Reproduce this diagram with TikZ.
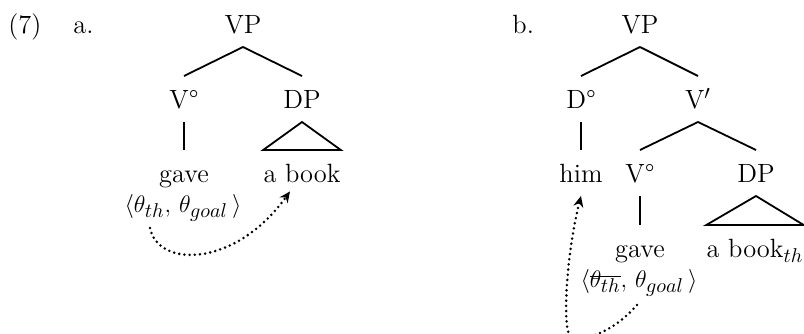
\documentclass[tikz,border=0pt]{standalone}
\usetikzlibrary{arrows.meta}
\DeclareMathSizes{13.2}{13.2}{10}{7.5}
\newcommand{\struck}[1]{\setbox0\hbox{$#1$}\rlap{\rule[5pt]{\wd0}{0.6pt}}\box0}

\begin{document}
\begin{tikzpicture}[
  x=0.5pt, y=-0.5pt,
  font=\fontsize{13.2}{16}\selectfont,
  cat/.style={anchor=base, inner xsep=0pt, inner ysep=6.8pt, text height=9pt, text depth=0pt},
  num/.style={anchor=base west, inner sep=0pt},
  branch/.style={line width=0.9pt},
  move/.style={line width=1.4pt, line cap=round, dash pattern=on 0pt off 2.6pt, -{Stealth[length=5.5pt,width=5pt]}}
]
\useasboundingbox (0,0) rectangle (804,333);
\node[num] (exnum) at (8,33) {(7)};
\node[num] (laba) at (73,33) {a.};
\node[num] (labb) at (512,33) {b.};
\node[cat] (vpa) at (243,33) {VP};
\node[cat] (va) at (184,108) {V°};
\node[cat] (dpa) at (302,108) {DP};
\node[cat] (gavea) at (184,182) {gave};
\node[cat] (booka) at (302,182) {a book};
\node[cat] (thetaa) at (183,212) {$\langle\theta_{th},\,\theta_{goal}\,\rangle$};
\draw[branch] (vpa.south) -- (va.north);
\draw[branch] (vpa.south) -- (dpa.north);
\draw[branch] (va.south) -- (gavea.north);
\draw[branch] (dpa.south) -- (booka.north west) -- (booka.north east) -- cycle;
\coordinate (srca) at (150,228);
\draw[move] (srca) .. controls (158,268) and (235,268) .. ([xshift=-6pt,yshift=2.3pt]booka.south);
\node[cat] (vpb) at (640,33) {VP};
\node[cat] (db) at (581,108) {D°};
\node[cat] (vbarb) at (698,108) {V$'$};
\node[cat] (himb) at (581,182) {him};
\node[cat] (vb) at (640,182) {V°};
\node[cat] (dpb) at (756,182) {DP};
\node[cat] (gaveb) at (640,257) {gave};
\node[cat] (bookb) at (755,257) {a book$_{th}$};
\node[cat] (thetab) at (639,287) {$\langle\struck{\theta_{th}},\,\theta_{goal}\,\rangle$};
\draw[branch] (vpb.south) -- (db.north);
\draw[branch] (vpb.south) -- (vbarb.north);
\draw[branch] (db.south) -- (himb.north);
\draw[branch] (vbarb.south) -- (vb.north);
\draw[branch] (vbarb.south) -- (dpb.north);
\draw[branch] (vb.south) -- (gaveb.north);
\draw[branch] (dpb.south) -- (bookb.north west) -- (bookb.north east) -- cycle;
\coordinate (srcb) at (637,305);
\draw[move] (srcb) .. controls (615,330) and (590,340) .. (572,338) .. controls (562,337) and (565,260) .. (himb.south);
\end{tikzpicture}
\end{document}
